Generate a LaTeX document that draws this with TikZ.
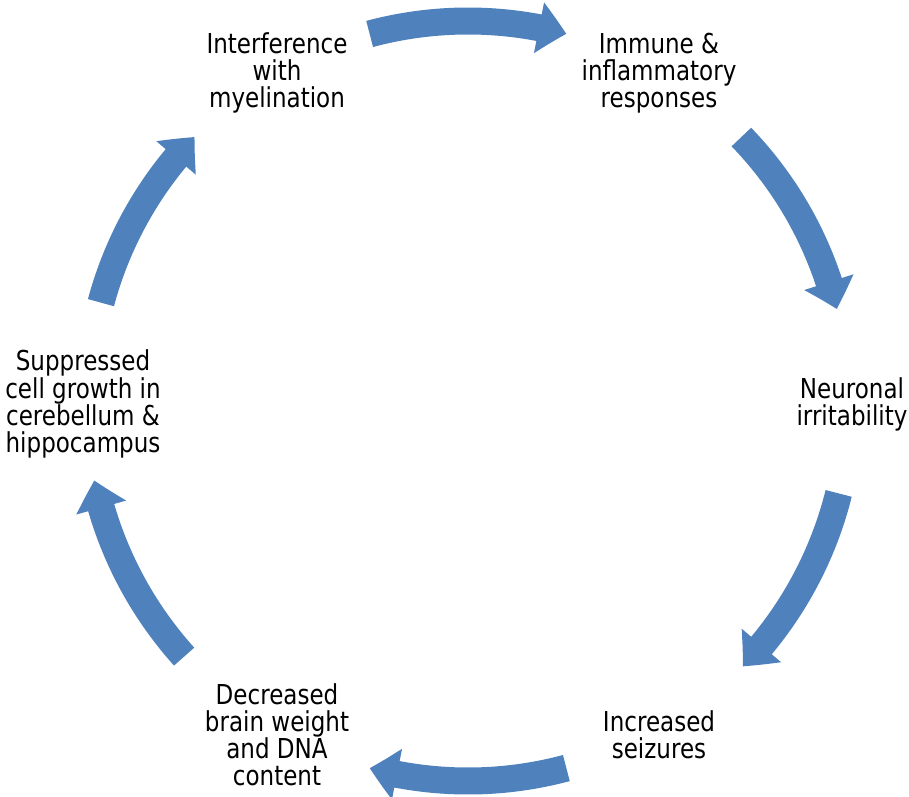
\documentclass[tikz,border=0pt]{standalone}
\usepackage{fontspec}
\setmainfont{DejaVu Sans}[FakeStretch=0.84]
\usepackage{tikz}
\usetikzlibrary{arrows.meta,bending,calc}
\definecolor{cycBlue}{HTML}{4F81BD}

\begin{document}
\begin{tikzpicture}[
  x=0.02cm, y=0.02cm,
  every node/.style={font=\fontsize{15.6pt}{15.4pt}\selectfont},
  lbl/.style={align=center,inner sep=0pt,text=black},
  flow/.style={draw=cycBlue,line width=0.54cm,
    -{Triangle[width=1.0cm,length=0.56cm,bend]}},
]
  \useasboundingbox (0,0) rectangle (909,796);
  \coordinate (ctr) at (468,395);
  \coordinate (txt) at (468,392);

  \node[lbl] (myelin)  at ($(txt)+(120:382)$) {Interference\\with\\myelination};
  \node[lbl] (immune)  at ($(txt)+(60:382)$)  {Immune \&\\inflammatory\\responses};
  \node[lbl] (neuron)  at ($(txt)+(0:384)$)   {Neuronal\\irritability};
  \node[lbl] (seizure) at ($(txt)+(-60:382)$) {Increased\\seizures};
  \node[lbl] (brain)   at ($(txt)+(-120:382)$) {Decreased\\brain weight\\and DNA\\content};
  \node[lbl] (growth)  at ($(txt)+(180:385)$) {Suppressed\\cell growth in\\cerebellum \&\\hippocampus};

  % block arrows round the cycle
  \draw[flow] ($(ctr)+(105:380)$) arc[start angle=105, end angle=75, radius=7.6cm];
  \draw[flow] ($(ctr)+(44:380)$) arc[start angle=44, end angle=14, radius=7.6cm];
  \draw[flow] ($(ctr)+(-14:382)$) arc[start angle=-14, end angle=-44, radius=7.64cm];
  \draw[flow] ($(ctr)+(-75:380)$) arc[start angle=-75, end angle=-105, radius=7.6cm];
  \draw[flow] ($(ctr)+(-138:382)$) arc[start angle=-138, end angle=-168, radius=7.64cm];
  \draw[flow] ($(ctr)+(165:380)$) arc[start angle=165, end angle=136, radius=7.6cm];
\end{tikzpicture}
\end{document}
